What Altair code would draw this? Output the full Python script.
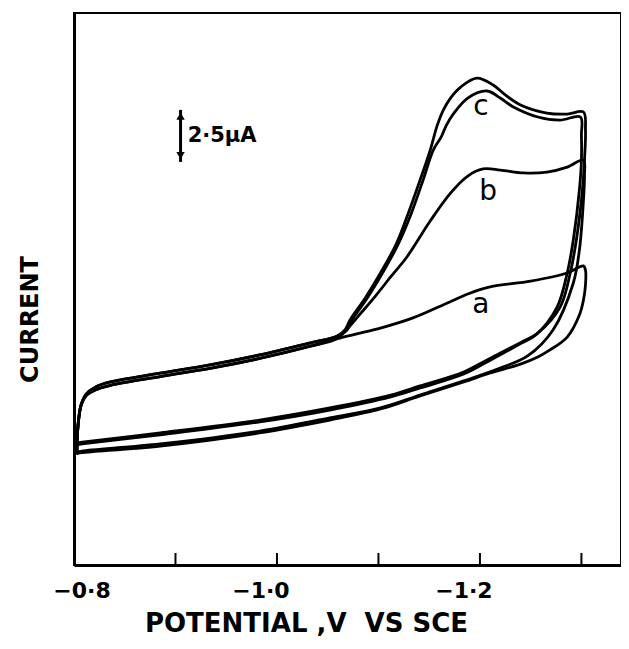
import altair as alt
import pandas as pd

# ---- data (potential in V, current in µA) ----
# start of the cathodic sweep (-0.8 V up to where the curves split)
base_V = [-0.804, -0.807, -0.812, -0.821, -0.836, -0.885, -0.934, -0.983, -1.033, -1.059]
base_ab_I = [6.73, 7.69, 8.15, 8.42, 8.64, 9.06, 9.45, 9.93, 10.52, 10.88]
base_c_I = [6.73, 7.69, 8.22, 8.55, 8.80, 9.22, 9.62, 10.10, 10.68, 11.00]

# curve a
a_fwd_V = [-1.082, -1.102, -1.134, -1.168, -1.188, -1.210, -1.250, -1.286, -1.302]
a_fwd_I = [11.15, 11.39, 11.88, 12.60, 13.03, 13.37, 13.65, 14.04, 14.38]
a_rev_V = [-1.304, -1.304, -1.302, -1.298, -1.286, -1.269, -1.257, -1.240, -1.210, -1.184, -1.141,
           -1.102, -1.052, -0.983, -0.885, -0.808, -0.803]
a_rev_I = [14.18, 13.46, 12.74, 12.02, 10.96, 10.34, 10.00, 9.66, 9.23, 8.80, 8.13,
           7.50, 6.97, 6.35, 5.72, 5.40, 5.36]

# curve b
b_fwd_V = [-1.070, -1.082, -1.097, -1.112, -1.128, -1.151, -1.171, -1.188, -1.203, -1.220, -1.243, -1.266, -1.286, -1.302]
b_fwd_I = [11.39, 12.07, 12.93, 13.85, 14.81, 16.54, 17.88, 18.70, 19.04, 18.99, 18.85, 18.89, 19.13, 19.47]
b_rev_V = [-1.303, -1.302, -1.298, -1.292, -1.272, -1.247, -1.220, -1.184, -1.141, -1.102, -1.052,
           -0.983, -0.885, -0.808, -0.803]
b_rev_I = [18.75, 17.55, 15.14, 13.56, 11.30, 10.05, 9.47, 8.85, 8.17, 7.55, 7.07,
           6.44, 5.82, 5.48, 5.43]

# curve c (two traces; the rising parts nearly coincide)
c1_rise_V = [-1.067, -1.072, -1.087, -1.102, -1.117, -1.128, -1.141, -1.151]
c1_rise_I = [11.30, 11.78, 12.84, 14.04, 15.38, 16.73, 18.51, 19.95]
c2_rise_V = [-1.069, -1.074, -1.089, -1.104, -1.119, -1.131, -1.144, -1.154]
c2_rise_I = [11.30, 11.78, 12.84, 14.04, 15.38, 16.73, 18.51, 19.95]
c1_top_V = [-1.158, -1.164, -1.171, -1.181, -1.197, -1.213, -1.225, -1.240, -1.266, -1.286, -1.302]
c1_top_I = [21.15, 21.88, 22.45, 22.98, 23.41, 23.08, 22.60, 22.12, 21.73, 21.68, 21.78]
c1_rev_V = [-1.304, -1.303, -1.301, -1.295, -1.289, -1.279, -1.257, -1.243, -1.207, -1.184, -1.141,
            -1.112, -1.052, -0.983, -0.885, -0.808, -0.803]
c1_rev_I = [20.91, 19.47, 18.03, 15.63, 14.04, 12.40, 11.15, 10.77, 9.86, 9.28, 8.61,
            8.17, 7.55, 6.97, 6.35, 5.91, 5.87]
c2_top_V = [-1.162, -1.167, -1.174, -1.188, -1.207, -1.220, -1.233, -1.257, -1.279, -1.299]
c2_top_I = [20.60, 21.15, 21.70, 22.45, 22.79, 22.45, 22.02, 21.54, 21.39, 21.54]
c2_rev_V = [-1.300, -1.300, -1.298, -1.292, -1.286, -1.276, -1.255, -1.241, -1.207, -1.184, -1.141,
            -1.112, -1.052, -0.983, -0.885, -0.808, -0.803]
c2_rev_I = [20.67, 19.47, 18.03, 15.63, 14.04, 12.40, 11.06, 10.67, 9.76, 9.18, 8.51,
            8.08, 7.45, 6.88, 6.26, 5.82, 5.78]

# axis ticks / labels
tick_values = [-0.9, -1.0, -1.1, -1.2, -1.3]
first_label_value = [-0.8]
first_label_text = ["−0·8"]
label_values = [-1.0, -1.2]
label_texts = ["−1·0", "−1·2"]

# curve letters
letters = ["c", "b", "a"]
letter_V = [-1.201, -1.208, -1.201]
letter_I = [21.63, 17.55, 12.12]

# 2.5 µA scale bar
bar_V = -0.905
bar_top = 21.88
bar_bottom = 19.38
bar_text = "2·5µA"
bar_text_V = -0.912
bar_text_I = 20.34

# ---- build tables ----
def trace(name, Vs, Is):
    return pd.DataFrame({"curve": name, "seq": range(len(Vs)), "V": Vs, "I": Is})

curves = pd.concat([
    trace("a", [a_rev_V[-1]] + base_V + a_fwd_V + a_rev_V, [a_rev_I[-1]] + base_ab_I + a_fwd_I + a_rev_I),
    trace("b", [b_rev_V[-1]] + base_V + b_fwd_V + b_rev_V, [b_rev_I[-1]] + base_ab_I + b_fwd_I + b_rev_I),
    trace("c1", [c1_rev_V[-1]] + base_V + c1_rise_V + c1_top_V + c1_rev_V,
          [c1_rev_I[-1]] + base_c_I + c1_rise_I + c1_top_I + c1_rev_I),
    trace("c2", [c2_rev_V[-1]] + base_V + c2_rise_V + c2_top_V + c2_rev_V,
          [c2_rev_I[-1]] + base_c_I + c2_rise_I + c2_top_I + c2_rev_I),
], ignore_index=True)

ticks_df = pd.DataFrame({"V": tick_values})
first_lab_df = pd.DataFrame({"V": first_label_value, "t": first_label_text})
labs_df = pd.DataFrame({"V": label_values, "t": label_texts})
letters_df = pd.DataFrame({"t": letters, "V": letter_V, "I": letter_I})
bar_df = pd.DataFrame({"V": [bar_V], "I": [bar_top], "I2": [bar_bottom]})
heads_df = pd.DataFrame({"V": [bar_V, bar_V], "I": [bar_top - 0.3, bar_bottom + 0.3],
                         "shape": ["triangle-up", "triangle-down"]})
bar_text_df = pd.DataFrame({"t": [bar_text], "V": [bar_text_V], "I": [bar_text_I]})

W, H = 547, 552
FONT = "DejaVu Sans"

xscale = alt.Scale(domain=[-1.339, -0.8], reverse=True, nice=False, zero=False)
yscale = alt.Scale(domain=[0, 26.54], nice=False, zero=False)

x_enc = alt.X("V:Q", scale=xscale, axis=alt.Axis(
    ticks=False, labels=False, grid=False, domain=True, domainColor="black", domainWidth=3,
    title="POTENTIAL ,V\u00a0 VS SCE", titleFont=FONT, titleFontSize=26, titleFontWeight="bold",
    titleColor="black", titleX=232, titleY=66, titleAlign="center", titleBaseline="alphabetic"))
y_enc = alt.Y("I:Q", scale=yscale, axis=alt.Axis(
    ticks=False, labels=False, grid=False, domain=True, domainColor="black", domainWidth=3,
    title="CURRENT", titleFont=FONT, titleFontSize=24, titleFontWeight="bold", titleColor="black",
    titleX=-37, titleY=306, titleAngle=270, titleAlign="center", titleBaseline="alphabetic"))

lines = alt.Chart(curves).mark_line(color="black", strokeWidth=2.8, interpolate="catmull-rom",
                                    strokeJoin="round", strokeCap="round").encode(
    x=x_enc, y=y_enc, detail="curve:N", order="seq:Q")

ticks = alt.Chart(ticks_df).mark_rule(color="black", strokeWidth=2).encode(
    x=alt.X("V:Q", scale=xscale), y=alt.value(H), y2=alt.value(H - 12))

lab_style = dict(font=FONT, fontSize=22, fontWeight="bold", color="black",
                 align="center", baseline="alphabetic")
first_lab = alt.Chart(first_lab_df).mark_text(dx=8, **lab_style).encode(
    x=alt.X("V:Q", scale=xscale), y=alt.value(H + 33), text="t:N")
labs = alt.Chart(labs_df).mark_text(dx=-16, **lab_style).encode(
    x=alt.X("V:Q", scale=xscale), y=alt.value(H + 33), text="t:N")

bar = alt.Chart(bar_df).mark_rule(color="black", strokeWidth=3).encode(
    x=alt.X("V:Q", scale=xscale), y=alt.Y("I:Q", scale=yscale), y2="I2:Q")
heads = alt.Chart(heads_df).mark_point(filled=True, color="black", size=70, opacity=1).encode(
    x=alt.X("V:Q", scale=xscale), y=alt.Y("I:Q", scale=yscale),
    shape=alt.Shape("shape:N", scale=None))
bar_txt = alt.Chart(bar_text_df).mark_text(font=FONT, fontSize=21, fontWeight="bold", color="black",
                                           align="left", baseline="alphabetic").encode(
    x=alt.X("V:Q", scale=xscale), y=alt.Y("I:Q", scale=yscale), text="t:N")
letter_txt = alt.Chart(letters_df).mark_text(font=FONT, fontSize=28, color="black",
                                             align="center", baseline="alphabetic").encode(
    x=alt.X("V:Q", scale=xscale), y=alt.Y("I:Q", scale=yscale), text="t:N")

chart = alt.layer(lines, ticks, first_lab, labs, bar, heads, bar_txt, letter_txt).properties(
    width=W, height=H,
    autosize=alt.AutoSizeParams(type="none"),
    padding={"left": 66, "top": 5, "right": 0, "bottom": 76},
    background="white",
).configure_view(stroke="black", strokeWidth=2)

chart.save("out.html", embed_options={"renderer": "svg", "actions": False})
